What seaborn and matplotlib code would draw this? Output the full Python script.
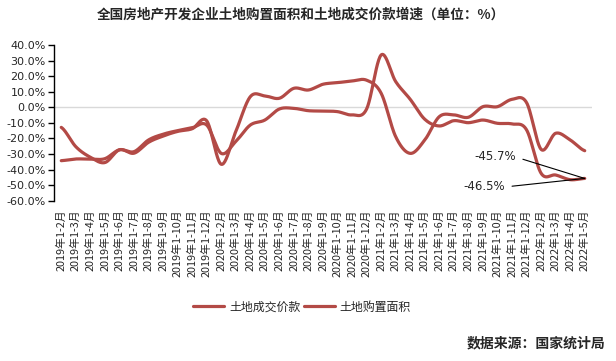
import numpy as np
import pandas as pd
import seaborn as sns
import matplotlib.pyplot as plt

sns.set_style("white")
plt.rcParams['font.family'] = ['Noto Sans CJK SC', 'DejaVu Sans']
plt.rcParams['axes.unicode_minus'] = False

months = ['1-2', '1-3', '1-4', '1-5', '1-6', '1-7', '1-8', '1-9', '1-10', '1-11', '1-12']
labels = ([f'2019年{m}月' for m in months] + [f'2020年{m}月' for m in months]
          + [f'2021年{m}月' for m in months] + [f'2022年{m}月' for m in months[:4]])

# 土地成交价款 growth (%)
price = [-12.9, -25.3, -32.1, -35.5, -27.3, -29.5, -22.5, -18.5, -15.5, -13.8, -8.7,
         -36.6, -15.6, 6.8, 7.3, 5.8, 12.2, 11.1, 14.8, 15.8, 16.9, 17.4,
         9.0, -18.9, -29.6, -21.0, -6.0, -4.9, -6.4, 0.4, 0.4, 5.1, 3.0,
         -27.0, -16.7, -21.0, -27.9]
# 土地购置面积 growth (%)
area = [-34.3, -33.2, -33.3, -33.0, -27.3, -28.5, -21.0, -17.3, -15.0, -13.2, -11.4,
        -29.6, -22.0, -11.4, -8.2, -1.1, -0.7, -2.2, -2.4, -2.8, -4.9, -1.1,
        33.6, 16.5, 5.1, -7.7, -12.0, -8.6, -9.9, -8.2, -10.3, -10.7, -14.5,
        -42.4, -43.5, -46.5, -45.7]
series_names = ['土地成交价款', '土地购置面积']
color = '#B34A46'


def smooth(vals, n=24):
    """Catmull-Rom curve through the points, like a smoothed office chart line."""
    v = np.asarray(vals, dtype=float)
    xs, ys = [], []
    for i in range(len(v) - 1):
        p0 = v[i - 1] if i > 0 else v[i]
        p1, p2 = v[i], v[i + 1]
        p3 = v[i + 2] if i + 2 < len(v) else v[i + 1]
        t = np.linspace(0, 1, n, endpoint=False)
        y = 0.5 * (2 * p1 + (-p0 + p2) * t + (2 * p0 - 5 * p1 + 4 * p2 - p3) * t ** 2
                   + (-p0 + 3 * p1 - 3 * p2 + p3) * t ** 3)
        xs.extend(i + t)
        ys.extend(y)
    xs.append(len(v) - 1)
    ys.append(v[-1])
    return np.array(xs), np.array(ys)


frames = []
for name, vals in zip(series_names, [price, area]):
    sx, sy = smooth(vals)
    frames.append(pd.DataFrame({'x': sx, 'y': sy, 'series': name}))
df = pd.concat(frames, ignore_index=True)

fig = plt.figure(figsize=(6.16, 3.61), dpi=100)
ax = fig.add_axes([54 / 616, 1 - 200.7 / 361, (592 - 54) / 616, (200.7 - 45) / 361])

ax.axhline(0, color='#D9D9D9', lw=1, zorder=0)
sns.lineplot(data=df, x='x', y='y', hue='series', palette=[color, color],
             sort=False, estimator=None, lw=2.3, ax=ax, legend=True)

ax.set_xlim(-0.5, len(labels) - 0.5)
ax.set_ylim(-60, 40)
ax.set_yticks(np.arange(-60, 41, 10))
ax.set_yticklabels([f'{t:.1f}%' for t in np.arange(-60, 41, 10)], fontsize=8,
                   family=['DejaVu Sans'])
ax.set_xticks(range(len(labels)))
ax.set_xticklabels(labels, rotation=90, fontsize=7.8, va='top')
ax.tick_params(axis='x', length=0, pad=6)
ax.tick_params(axis='y', direction='out', length=4, width=1, color='black', pad=2, left=True)
ax.set_xlabel('')
ax.set_ylabel('')
for s in ['top', 'right', 'bottom']:
    ax.spines[s].set_visible(False)
ax.spines['left'].set_color('black')
ax.spines['left'].set_linewidth(1)

# legend under the labels
h, l = ax.get_legend_handles_labels()
ax.legend_.remove()
fig.legend(h, l, loc='center', bbox_to_anchor=(302 / 616, 1 - 307 / 361), ncol=2,
           frameon=False, fontsize=8.6, handlelength=2.6, columnspacing=0.3,
           handletextpad=0.4)

# end-point callouts (figure pixels measured from the bottom)
last = len(area) - 1
ax.annotate(f'{area[last]:.1f}%', xy=(last, area[last]), xytext=(474, 361 - 157),
            textcoords='figure pixels', fontsize=8.5, family=['DejaVu Sans'],
            ha='left', va='center', xycoords='data',
            arrowprops=dict(arrowstyle='-', color='black', lw=0.8, shrinkA=3, shrinkB=0,
                            relpos=(1, 0.5)))
ax.annotate(f'{area[last - 1]:.1f}%', xy=(last, area[last]), xytext=(463, 361 - 187),
            textcoords='figure pixels', fontsize=8.5, family=['DejaVu Sans'],
            ha='left', va='center', xycoords='data',
            arrowprops=dict(arrowstyle='-', color='black', lw=0.8, shrinkA=3, shrinkB=0,
                            relpos=(1, 0.5)))

fig.text(301 / 616, 1 - 15 / 361, '全国房地产开发企业土地购置面积和土地成交价款增速（单位：%）',
         ha='center', va='center', fontsize=9.8, fontweight='bold')
fig.text(605 / 616, 1 - 343 / 361, '数据来源：国家统计局', ha='right', va='center',
         fontsize=10, fontweight='bold')

fig.savefig('out.png', dpi=100)
